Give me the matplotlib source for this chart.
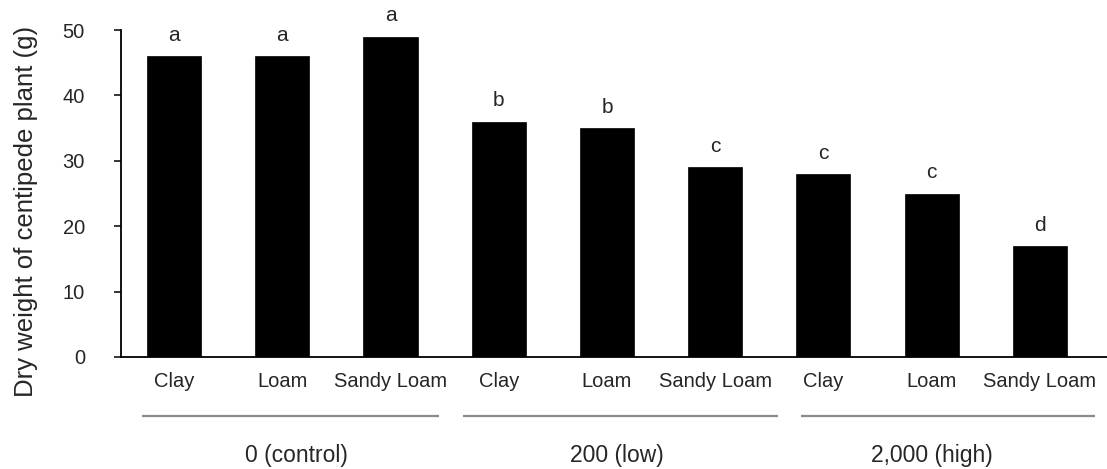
import matplotlib
matplotlib.use("Agg")
import matplotlib.pyplot as plt
import matplotlib.transforms as mtransforms

soils = ["Clay", "Loam", "Sandy Loam", "Clay", "Loam", "Sandy Loam", "Clay", "Loam", "Sandy Loam"]
dry_weight = [46, 46, 49, 36, 35, 29, 28, 25, 17]
letters = ["a", "a", "a", "b", "b", "c", "c", "c", "d"]
groups = ["0 (control)", "200 (low)", "2,000 (high)"]
group_members = [[0, 1, 2], [3, 4, 5], [6, 7, 8]]
yticks = [0, 10, 20, 30, 40, 50]

# layout tweaks (offsets relative to group bars, in bar units)
line_pad_left = [0.30, 0.33, 0.21]
line_pad_right = [0.45, 0.58, 0.51]
label_shift = [0.13, 0.09, 0.0]

plt.rcParams["font.family"] = ["Liberation Sans", "DejaVu Sans"]
text_color = "#262626"

fig = plt.figure(figsize=(11.07, 4.69), dpi=100)
ax = fig.add_axes([121 / 1107, 1 - 357 / 469, 1 - 121 / 1107, (357 - 30) / 469])

x = list(range(len(soils)))
ax.bar(x, dry_weight, width=0.5, color="black", edgecolor="black", linewidth=0.5)

for xi, v, lab in zip(x, dry_weight, letters):
    ax.annotate(lab, (xi, v), xytext=(0, 11), textcoords="offset points",
                ha="center", va="baseline", fontsize=15, color=text_color,
                annotation_clip=False)

ax.set_xlim(-0.49, 8.62)
ax.set_ylim(0, 50)
ax.set_yticks(yticks)
ax.set_xticks(x)
ax.set_xticklabels(soils)

for s in ["top", "right"]:
    ax.spines[s].set_visible(False)
ax.spines["left"].set_linewidth(1.3)
ax.spines["bottom"].set_linewidth(1.3)

ax.tick_params(axis="y", direction="out", length=5, width=1.1, pad=21,
               labelsize=14.5, labelcolor=text_color)
ax.tick_params(axis="x", length=0, pad=11, labelsize=14.5, labelcolor=text_color)

ax.set_ylabel("Dry weight of centipede plant (g)", fontsize=18.5, color=text_color)
ax.yaxis.set_label_coords(-0.084, 0.446)

trans = mtransforms.blended_transform_factory(ax.transData, ax.transAxes)
for gi, (gname, members) in enumerate(zip(groups, group_members)):
    x0 = members[0] - line_pad_left[gi]
    x1 = members[-1] + line_pad_right[gi]
    ax.plot([x0, x1], [-0.18, -0.18], transform=trans, color="#8a8a8a",
            linewidth=1.6, clip_on=False, solid_capstyle="butt")
    ax.text(members[1] + label_shift[gi], -0.30, gname, transform=trans, ha="center",
            va="center", fontsize=16.5, color=text_color)

fig.savefig("out.png", dpi=100)
